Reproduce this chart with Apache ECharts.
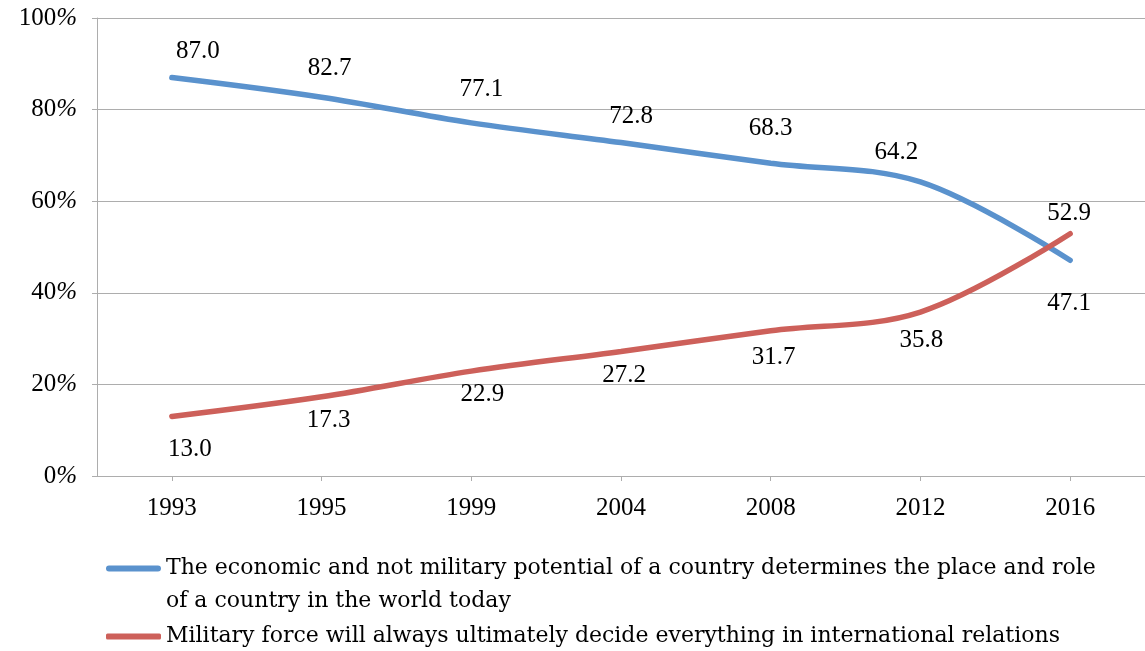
<!DOCTYPE html>
<html>
<head>
<meta charset="utf-8">
<script src="https://cdn.jsdelivr.net/npm/echarts@6/dist/echarts.min.js"></script>
<style>
html,body{margin:0;padding:0;background:#fff;}
#chart{width:1145px;height:651px;}
</style>
</head>
<body>
<div id="chart"></div>
<script>
const categories = ['1993', '1995', '1999', '2004', '2008', '2012', '2016'];
const economicValues = [87.0, 82.7, 77.1, 72.8, 68.3, 64.2, 47.1];
const militaryValues = [13.0, 17.3, 22.9, 27.2, 31.7, 35.8, 52.9];
const economicName = 'The economic and not military potential of a country determines the place and role\nof a country in the world today';
const militaryName = 'Military force will always ultimately decide everything in international relations';

// label placement (pixel offsets from each point)
const economicLabelOffsets = [[26,-26],[8,-29],[10,-33],[10,-26],[0,-35],[-24,-30],[-1,43]];
const militaryLabelOffsets = [[18,33],[7,24],[11,23],[3,24],[3,27],[1,28],[-1,-20]];

const FONT = '"Liberation Serif", "DejaVu Serif", serif';
const LEGEND_FONT = '"DejaVu Serif", "Liberation Serif", serif';
const BLUE = '#5A92CD';
const RED = '#CD605A';
const GRID = '#ADADAD';

// legend icon: rounded bar at the top of a 55x39 box, so it lines up with the first text line
const TOP_BAR_ICON = 'path://M3,0 L52,0 A3,3 0 0 1 52,6 L3,6 A3,3 0 0 1 3,0 Z M0,39 L0.01,39 L0.01,39.01 Z';

function buildData(values, offsets) {
  return values.map((v, i) => ({
    value: v,
    label: { offset: offsets[i] }
  }));
}

const legendText = { fontFamily: LEGEND_FONT, fontSize: 22, color: '#000', lineHeight: 33 };

const chart = echarts.init(document.getElementById('chart'));
chart.setOption({
  animation: false,
  backgroundColor: '#fff',
  grid: { left: 97, top: 18, width: 1065, height: 458, containLabel: false },
  xAxis: {
    type: 'category',
    data: categories,
    boundaryGap: true,
    axisLine: { show: true, lineStyle: { color: GRID, width: 1 } },
    axisTick: { show: true, alignWithLabel: true, length: 5, lineStyle: { color: GRID } },
    axisLabel: { color: '#000', fontFamily: FONT, fontSize: 25, margin: 20 },
    splitLine: { show: false }
  },
  yAxis: {
    type: 'value',
    min: 0, max: 100, interval: 20,
    axisLine: { show: true, lineStyle: { color: GRID, width: 1 } },
    axisTick: { show: true, length: 5, lineStyle: { color: GRID } },
    axisLabel: {
      color: '#000', fontFamily: FONT, fontSize: 25, margin: 20,
      formatter: v => v + '{p|%}',
      rich: { p: { fontFamily: FONT, fontSize: 25, fontStyle: 'italic', color: '#000' } }
    },
    splitLine: { show: true, lineStyle: { color: GRID, width: 1 } }
  },
  legend: [
    {
      orient: 'vertical',
      left: 106,
      top: 552,
      padding: 0,
      itemWidth: 55,
      itemHeight: 39,
      icon: TOP_BAR_ICON,
      itemStyle: { borderWidth: 0 },
      textStyle: legendText,
      data: [economicName]
    },
    {
      orient: 'vertical',
      left: 106,
      top: 620,
      padding: 0,
      itemWidth: 55,
      itemHeight: 6,
      icon: 'roundRect',
      itemStyle: { borderWidth: 0 },
      textStyle: legendText,
      data: [militaryName]
    }
  ],
  series: [
    {
      name: economicName,
      type: 'line',
      smooth: 0.35,
      data: buildData(economicValues, economicLabelOffsets),
      symbol: 'circle',
      symbolSize: 1,
      itemStyle: { color: BLUE },
      lineStyle: { color: BLUE, width: 5.5, cap: 'round' },
      label: {
        show: true, position: 'inside', color: '#000', fontFamily: FONT, fontSize: 25,
        formatter: p => p.value.toFixed(1)
      }
    },
    {
      name: militaryName,
      type: 'line',
      smooth: 0.35,
      data: buildData(militaryValues, militaryLabelOffsets),
      symbol: 'circle',
      symbolSize: 1,
      itemStyle: { color: RED },
      lineStyle: { color: RED, width: 5.5, cap: 'round' },
      label: {
        show: true, position: 'inside', color: '#000', fontFamily: FONT, fontSize: 25,
        formatter: p => p.value.toFixed(1)
      }
    }
  ]
});
</script>
</body>
</html>
